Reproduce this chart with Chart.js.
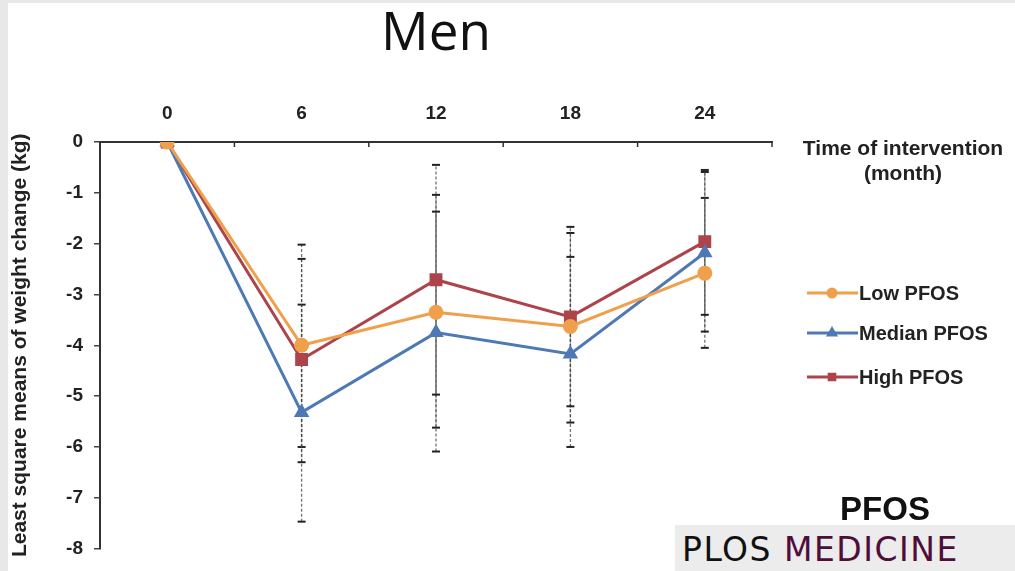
<!DOCTYPE html>
<html>
<head>
<meta charset="utf-8">
<script src="https://cdn.jsdelivr.net/npm/chart.js@4"></script>
<style>
  html, body { margin: 0; padding: 0; background: #e8e8e8; }
  #wrap { position: absolute; left: 8px; top: 3px; width: 1007px; height: 568px; background: #fff; }
  #chartBox { position: absolute; left: -8px; top: -3px; width: 1015px; height: 571px; }
  #brand { position: absolute; left: 667px; top: 522px; width: 340px; height: 46px; background: #ececec;
           font-family: 'DejaVu Sans', sans-serif; font-size: 33px; line-height: 50px; padding-left: 7px; color: #111; letter-spacing: 1.5px; white-space: nowrap; overflow: hidden; }
  #brand span { color: #4f0d3a; }
</style>
</head>
<body>
<div id="wrap">
  <div id="chartBox"><canvas id="menChart" width="1015" height="571"></canvas></div>
  <div id="brand">PLOS <span>MEDICINE</span></div>
</div>
<script>
// months of intervention
const months = [0, 6, 12, 18, 24];
const monthLabels = [0, 6, 12, 18, 24];
const minorTicks = [-3, 3, 9, 15, 21, 27];

// least square means of weight change (kg)
const lowPFOS = [0, -4.0, -3.35, -3.63, -2.58];
const medianPFOS = [0, -5.32, -3.75, -4.17, -2.18];
const highPFOS = [0, -4.28, -2.71, -3.44, -1.96];

// error bar ranges [low, high] per time point
const lowErr = [null, [-6.0, -2.02], [-5.62, -1.04], [-5.52, -1.79], [-4.05, -1.1]];
const medianErr = [null, [-7.47, -3.2], [-6.09, -1.37], [-6.0, -2.26], [-3.73, -0.59]];
const highErr = [null, [-6.3, -2.3], [-4.97, -0.45], [-5.2, -1.67], [-3.4, -0.55]];

const orange = '#f0a04b';
const blue = '#4d79b5';
const red = '#ad434b';
const fontFam = '"Liberation Sans", Arial, sans-serif';

function toPoints(vals) {
    return months.map((m, i) => ({ x: m, y: vals[i] }));
}

const errorBars = {
    id: 'errorBars',
    beforeDatasetsDraw(chart) {
        const ctx = chart.ctx;
        const xs = chart.scales.x, ys = chart.scales.y;
        ctx.save();
        chart.data.datasets.forEach(ds => {
            ds.errors.forEach((e, i) => {
                if (!e) return;
                const px = xs.getPixelForValue(months[i]);
                const y1 = ys.getPixelForValue(e[0]);
                const y2 = ys.getPixelForValue(e[1]);
                ctx.strokeStyle = 'rgba(70,70,70,0.75)';
                ctx.lineWidth = 1.3;
                ctx.setLineDash([3, 2]);
                ctx.beginPath();
                ctx.moveTo(px, y1);
                ctx.lineTo(px, y2);
                ctx.stroke();
                ctx.setLineDash([]);
                ctx.strokeStyle = '#222';
                ctx.lineWidth = 2;
                [y1, y2].forEach(y => {
                    ctx.beginPath();
                    ctx.moveTo(px - 4, y);
                    ctx.lineTo(px + 4, y);
                    ctx.stroke();
                });
            });
        });
        ctx.restore();
    }
};

const extras = {
    id: 'extras',
    afterDraw(chart) {
        const ctx = chart.ctx;
        const xs = chart.scales.x;
        const area = chart.chartArea;
        ctx.save();
        // minor ticks under the top axis
        ctx.strokeStyle = '#333';
        ctx.lineWidth = 1.5;
        minorTicks.forEach(v => {
            const px = xs.getPixelForValue(v);
            ctx.beginPath();
            ctx.moveTo(px, area.top);
            ctx.lineTo(px, area.top + 5);
            ctx.stroke();
        });
        // title
        ctx.fillStyle = '#111';
        ctx.textAlign = 'center';
        ctx.textBaseline = 'middle';
        ctx.font = '53px "Open Sans", sans-serif';
        ctx.fillText('Men', (area.left + area.right) / 2, 35);
        // axis caption
        ctx.font = 'bold 21px ' + fontFam;
        ctx.fillStyle = '#222';
        ctx.fillText('Time of intervention', 903, 149);
        ctx.fillText('(month)', 903, 174);
        // legend
        const items = [
            { label: 'Low PFOS', color: orange, style: 'circle', y: 293 },
            { label: 'Median PFOS', color: blue, style: 'triangle', y: 333 },
            { label: 'High PFOS', color: red, style: 'rect', y: 377 }
        ];
        ctx.font = 'bold 20px ' + fontFam;
        items.forEach(it => {
            ctx.strokeStyle = it.color;
            ctx.lineWidth = 3;
            ctx.beginPath();
            ctx.moveTo(807, it.y);
            ctx.lineTo(858, it.y);
            ctx.stroke();
            ctx.fillStyle = it.color;
            Chart.helpers.drawPoint(ctx, { pointStyle: it.style, radius: 4, borderWidth: 1 }, 832, it.y);
            ctx.fillStyle = '#222';
            ctx.textAlign = 'left';
            ctx.fillText(it.label, 859, it.y + 1);
        });
        // PFOS tag
        ctx.textAlign = 'center';
        ctx.fillStyle = '#111';
        ctx.font = 'bold 33px ' + fontFam;
        ctx.fillText('PFOS', 885, 511);
        ctx.restore();
    }
};

const ctx = document.getElementById('menChart').getContext('2d');

const menChart = new Chart(ctx, {
    type: 'line',
    data: {
        datasets: [{
            label: 'Low PFOS',
            data: toPoints(lowPFOS),
            errors: lowErr,
            borderColor: orange,
            backgroundColor: orange,
            pointStyle: 'circle',
            pointRadius: 6,
            borderWidth: 3
        }, {
            label: 'Median PFOS',
            data: toPoints(medianPFOS),
            errors: medianErr,
            borderColor: blue,
            backgroundColor: blue,
            pointStyle: 'triangle',
            pointRadius: 6,
            borderWidth: 3
        }, {
            label: 'High PFOS',
            data: toPoints(highPFOS),
            errors: highErr,
            borderColor: red,
            backgroundColor: red,
            pointStyle: 'rect',
            pointRadius: 7,
            borderWidth: 3
        }]
    },
    options: {
        responsive: false,
        animation: false,
        events: [],
        layout: { padding: { left: 8, right: 243, top: 0, bottom: 22 } },
        plugins: {
            legend: { display: false },
            tooltip: { enabled: false }
        },
        scales: {
            x: {
                type: 'linear',
                position: 'top',
                min: -3,
                max: 27,
                afterFit(scale) { scale.height = 142; },
                afterBuildTicks(scale) {
                    scale.ticks = monthLabels.map(v => ({ value: v }));
                },
                border: { display: true, color: '#333', width: 2 },
                grid: { display: false, drawTicks: false },
                ticks: {
                    padding: 17,
                    color: '#222',
                    font: { family: fontFam, size: 19, weight: 'bold' }
                }
            },
            y: {
                min: -8,
                max: 0,
                afterFit(scale) { scale.width = 92; },
                border: { display: true, color: '#333', width: 2 },
                grid: { drawOnChartArea: false, drawTicks: true, tickLength: 6, color: '#444', lineWidth: 1.5 },
                ticks: {
                    stepSize: 1,
                    padding: 11,
                    color: '#222',
                    font: { family: fontFam, size: 19, weight: 'bold' }
                },
                title: {
                    display: true,
                    text: 'Least square means of weight change (kg)',
                    color: '#222',
                    padding: { top: 0, bottom: 0 },
                    font: { family: fontFam, size: 21, weight: 'bold' }
                }
            }
        }
    },
    plugins: [errorBars, extras]
});
</script>
</body>
</html>
